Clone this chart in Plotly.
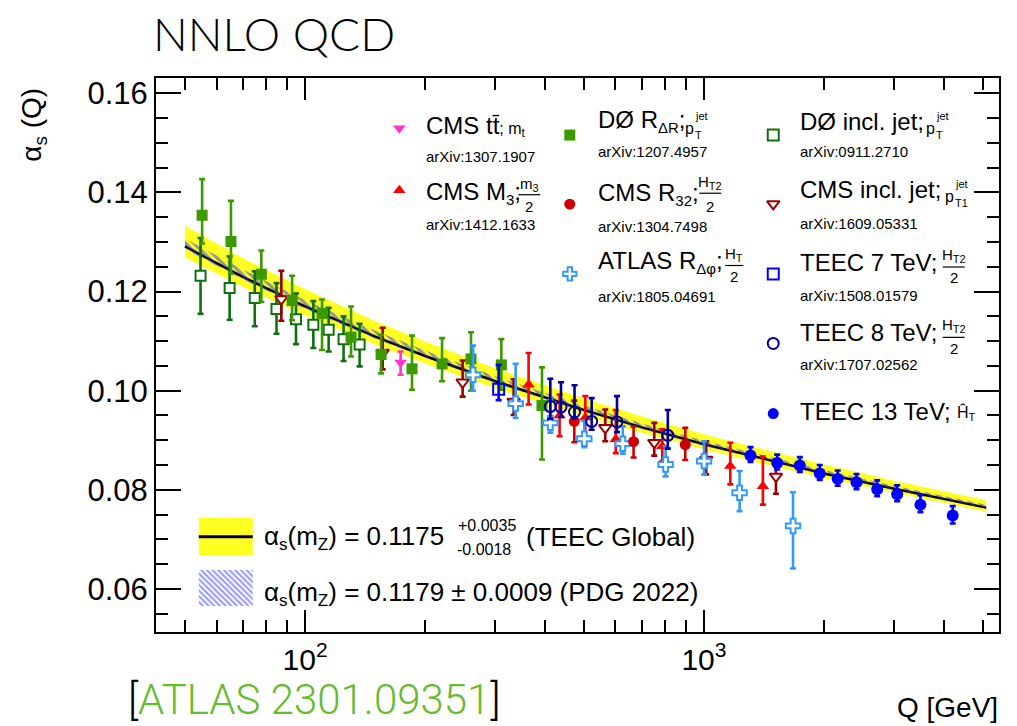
import math
import plotly.graph_objects as go

# ---------------- running coupling curves ----------------
q_band = [50, 70, 100, 150, 200, 300, 500, 700, 1000, 1500, 2000, 3000, 5100]
teec_central = [0.1291, 0.1229, 0.1170, 0.1109, 0.1070, 0.1019, 0.0961, 0.0926, 0.0892, 0.0857, 0.0833, 0.0802, 0.0764]
teec_up = [0.0042, 0.0038, 0.0035, 0.0031, 0.0029, 0.0026, 0.0023, 0.0022, 0.0020, 0.0019, 0.0018, 0.0016, 0.0015]
teec_down = [0.0022, 0.0020, 0.0018, 0.0016, 0.0015, 0.0014, 0.0012, 0.0011, 0.0010, 0.0010, 0.0009, 0.0008, 0.0008]
pdg_central = [0.1296, 0.1234, 0.1174, 0.1113, 0.1074, 0.1022, 0.0964, 0.0928, 0.0894, 0.0859, 0.0835, 0.0804, 0.0766]
pdg_err = [0.0011, 0.0010, 0.0009, 0.0008, 0.0007, 0.0007, 0.0006, 0.0006, 0.0005, 0.0005, 0.0005, 0.0004, 0.0004]

# ---------------- measurements ----------------
d0_incl_q = [54.7, 64.7, 74.8, 84.8, 94.9, 104.9, 114.6, 124.9, 137.0]
d0_incl_a = [0.1232, 0.1207, 0.1187, 0.1165, 0.1144, 0.1133, 0.1123, 0.1104, 0.1093]
d0_incl_up = [0.0076, 0.0064, 0.0054, 0.0052, 0.0052, 0.0048, 0.0044, 0.0046, 0.0042]
d0_incl_dn = [0.0077, 0.0064, 0.0057, 0.0050, 0.0050, 0.0047, 0.0044, 0.0044, 0.0044]

cms_incl_q = [87.2, 156.5, 248.3, 333.3, 565.6, 750.6, 1013, 1515]
cms_incl_a = [0.1185, 0.1077, 0.1017, 0.0978, 0.0925, 0.0895, 0.0861, 0.0827]
cms_incl_up = [0.0057, 0.0050, 0.0044, 0.0045, 0.0037, 0.0040, 0.0037, 0.0034]
cms_incl_dn = [0.0044, 0.0034, 0.0029, 0.0027, 0.0027, 0.0026, 0.0030, 0.0035]

d0_rdr_q = [55.2, 65.2, 77.7, 92.8, 110.3, 130.4, 155.1, 185.4, 220.5, 260.6, 310.5, 392.6]
d0_rdr_a = [0.1354, 0.1301, 0.1235, 0.1182, 0.1156, 0.1108, 0.1073, 0.1044, 0.1054, 0.1064, 0.1052, 0.0970]
d0_rdr_up = [0.0073, 0.0082, 0.0048, 0.0050, 0.0028, 0.0062, 0.0040, 0.0067, 0.0052, 0.0054, 0.0052, 0.0077]
d0_rdr_dn = [0.0057, 0.0065, 0.0056, 0.0040, 0.0074, 0.0039, 0.0038, 0.0042, 0.0035, 0.0064, 0.0050, 0.0109]

cms_tt_q = [173.6]
cms_tt_a = [0.1057]
cms_tt_up = [0.0022]
cms_tt_dn = [0.0025]

cms_m3_q = [363.4, 434.6, 504.1, 601.0, 786.2, 1164, 1405]
cms_m3_a = [0.1012, 0.0950, 0.0946, 0.0902, 0.0888, 0.0848, 0.0807]
cms_m3_up = [0.0064, 0.0042, 0.0043, 0.0059, 0.0034, 0.0047, 0.0060]
cms_m3_dn = [0.0040, 0.0042, 0.0044, 0.0028, 0.0030, 0.0037, 0.0037]

atlas_q = [263.7, 337.2, 411.9, 501.2, 625.9, 801.4, 1000.6, 1228, 1672]
atlas_a = [0.1032, 0.0974, 0.0935, 0.0903, 0.0893, 0.0851, 0.0858, 0.0794, 0.0727]
atlas_up = [0.0059, 0.0080, 0.0046, 0.0036, 0.0035, 0.0037, 0.0040, 0.0044, 0.0068]
atlas_dn = [0.0032, 0.0029, 0.0020, 0.0017, 0.0020, 0.0024, 0.0027, 0.0037, 0.0086]

cms_r32_q = [473.1, 666.1, 897.6]
cms_r32_a = [0.0938, 0.0897, 0.0891]
cms_r32_up = [0.0042, 0.0031, 0.0034]
cms_r32_dn = [0.0042, 0.0032, 0.0031]

teec7_q = [305.7]
teec7_a = [0.1003]
teec7_up = [0.0049]
teec7_dn = [0.0022]

teec8_q = [411.9, 438.1, 473.7, 523.0, 605.3, 811.6]
teec8_a = [0.0968, 0.0967, 0.0957, 0.0938, 0.0937, 0.0910]
teec8_up = [0.0056, 0.0050, 0.0054, 0.0047, 0.0052, 0.0051]
teec8_dn = [0.0025, 0.0020, 0.0013, 0.0017, 0.0021, 0.0027]

teec13_q = [1308, 1526, 1739, 1951, 2164, 2412, 2718, 3050, 3488, 4203]
teec13_a = [0.0869, 0.0854, 0.0849, 0.0833, 0.0822, 0.0815, 0.0801, 0.0791, 0.0770, 0.0748]
teec13_up = [0.0017, 0.0017, 0.0017, 0.0017, 0.0017, 0.0017, 0.0018, 0.0018, 0.0019, 0.0019]
teec13_dn = [0.0013, 0.0013, 0.0013, 0.0013, 0.0014, 0.0014, 0.0014, 0.0014, 0.0015, 0.0016]

y_ticks = [0.06, 0.08, 0.10, 0.12, 0.14, 0.16]
y_ticktext = ["0.06", "0.08", "0.10", "0.12", "0.14", "0.16"]
x_ticks = [100, 1000]
x_ticktext = ["10<sup>2</sup>", "10<sup>3</sup>"]

# ---------------- page geometry ----------------
W, H = 1017, 726
L, R, T, B = 155.6, 998.8, 77.7, 632.0
FONT = "Liberation Sans"
YELLOW = "#ffff22"
HATCH_BLUE = "#2b2bff"


def fx(px):
    return (px - L) / (R - L)


def fy(py):
    return (B - py) / (B - T)


def sub(s, size=15):
    return f"<sub><span style='font-size:{size}px'>{s}</span></sub>"


fig = go.Figure()

# TEEC global band (yellow) + central line
lower = [c - d for c, d in zip(teec_central, teec_down)]
upper = [c + u for c, u in zip(teec_central, teec_up)]
fig.add_trace(go.Scatter(x=q_band, y=lower, mode="lines", line=dict(width=0, color=YELLOW),
                         showlegend=False, hoverinfo="skip"))
fig.add_trace(go.Scatter(x=q_band, y=upper, mode="lines", line=dict(width=0, color=YELLOW),
                         fill="tonexty", fillcolor=YELLOW, showlegend=False, hoverinfo="skip"))
fig.add_trace(go.Scatter(x=q_band, y=teec_central, mode="lines", line=dict(width=2.5, color="black"),
                         showlegend=False, hoverinfo="skip"))

# PDG world average band (hatched)
p_lo = [c - e for c, e in zip(pdg_central, pdg_err)]
p_hi = [c + e for c, e in zip(pdg_central, pdg_err)]
hatch = dict(shape="\\", fgcolor=HATCH_BLUE, bgcolor="rgba(0,0,0,0)", size=6, solidity=0.55)
fig.add_trace(go.Scatter(x=q_band, y=p_lo, mode="lines", line=dict(width=0), showlegend=False,
                         hoverinfo="skip"))
fig.add_trace(go.Scatter(x=q_band, y=p_hi, mode="lines", line=dict(width=0), fill="tonexty",
                         fillcolor="rgba(0,0,0,0)", fillpattern=hatch, showlegend=False,
                         hoverinfo="skip"))


def add_points(q, a, up, dn, color, symbol, size, fill=None, lw=2):
    fig.add_trace(go.Scatter(
        x=q, y=a, mode="markers", showlegend=False,
        marker=dict(symbol=symbol, size=size, color=fill if fill else color,
                    line=dict(color=color, width=lw)),
        error_y=dict(type="data", symmetric=False, array=up, arrayminus=dn,
                     color=color, thickness=2.6, width=3),
    ))


C_D0_INCL = "#107010"
C_CMS_INCL = "#9a0000"
C_D0_RDR = "#3a9a00"
C_TT = "#ff33cc"
C_M3 = "#ff0000"
C_ATLAS = "#3399ff"
C_R32 = "#cc0000"
C_TEEC7 = "#0000ee"
C_TEEC8 = "#000099"
C_TEEC13 = "#0000ff"

add_points(d0_incl_q, d0_incl_a, d0_incl_up, d0_incl_dn, C_D0_INCL, "square", 10, fill="white")
add_points(cms_incl_q, cms_incl_a, cms_incl_up, cms_incl_dn, C_CMS_INCL, "triangle-down", 11, fill="white")
add_points(d0_rdr_q, d0_rdr_a, d0_rdr_up, d0_rdr_dn, C_D0_RDR, "square", 11, lw=0)
add_points(cms_tt_q, cms_tt_a, cms_tt_up, cms_tt_dn, C_TT, "triangle-down", 11, lw=0)
add_points(cms_m3_q, cms_m3_a, cms_m3_up, cms_m3_dn, C_M3, "triangle-up", 11, lw=0)
add_points(atlas_q, atlas_a, atlas_up, atlas_dn, C_ATLAS, "cross", 12, fill="white")
add_points(cms_r32_q, cms_r32_a, cms_r32_up, cms_r32_dn, C_R32, "circle", 11, lw=0)
add_points(teec7_q, teec7_a, teec7_up, teec7_dn, C_TEEC7, "square-open", 11)
add_points(teec8_q, teec8_a, teec8_up, teec8_dn, C_TEEC8, "circle-open", 11)
add_points(teec13_q, teec13_a, teec13_up, teec13_dn, C_TEEC13, "circle", 12, lw=0)

# ---------------- legend ----------------
annotations = []
shapes = []


def text(px, py, s, size=24, anchor="left", color="black", family=FONT, weight=None):
    font = dict(family=family, size=size, color=color)
    if weight:
        font["weight"] = weight
    annotations.append(dict(x=fx(px), y=fy(py), xref="paper", yref="paper", text=s,
                            showarrow=False, xanchor=anchor, yanchor="middle", font=font))


def fraction(cx, num, den, ynum, ybar, yden, half=11):
    text(cx, ynum, num, size=15, anchor="center")
    text(cx, yden, den, size=15, anchor="center")
    shapes.append(dict(type="line", xref="paper", yref="paper", x0=fx(cx - half), x1=fx(cx + half),
                       y0=fy(ybar), y1=fy(ybar), line=dict(color="black", width=1.2)))


def pjet(px, py, lower_index):
    text(px, py, "p", size=16)
    text(px + 10, py - 12, "jet", size=11)
    text(px + 10, py + 7, lower_index, size=11)


legend_markers = [
    (399, 128, "triangle-down", C_TT, C_TT, 0),
    (399, 190, "triangle-up", C_M3, C_M3, 0),
    (569.5, 134.8, "square", C_D0_RDR, C_D0_RDR, 0),
    (569.5, 204, "circle", C_R32, C_R32, 0),
    (569.5, 273.7, "cross", "white", C_ATLAS, 2),
    (773, 134.8, "square", "white", C_D0_INCL, 2),
    (773, 203.7, "triangle-down", "white", C_CMS_INCL, 2),
    (773, 273.7, "square-open", C_TEEC7, C_TEEC7, 2),
    (773, 343.3, "circle-open", C_TEEC8, C_TEEC8, 2),
    (773, 413.4, "circle", C_TEEC13, C_TEEC13, 0),
]
for mx, my, sym, fc, lc, lw in legend_markers:
    fig.add_trace(go.Scatter(x=[fx(mx)], y=[fy(my)], xaxis="x2", yaxis="y2", mode="markers",
                             showlegend=False, hoverinfo="skip",
                             marker=dict(symbol=sym, size=11, color=fc, line=dict(color=lc, width=lw))))

# column 1
text(423.7, 126, "CMS tt\u0304<span style='font-size:16px'>; m" + sub("t", 12) + "</span>")
text(423.7, 155.8, "arXiv:1307.1907", size=15)
text(423.7, 193, "CMS M" + sub("3") + ";")
fraction(529, "m" + sub("3", 11), "2", 184, 194.5, 206)
text(423.7, 224.7, "arXiv:1412.1633", size=15)
# column 2
text(596, 121, "D\u00d8 R" + sub("\u0394R") + ";")
pjet(683, 128, "T")
text(596, 151.2, "arXiv:1207.4957", size=15)
text(596, 194, "CMS R" + sub("32") + ";")
fraction(710, "H" + sub("T2", 11), "2", 182, 193, 206.5)
text(596, 225.9, "arXiv:1304.7498", size=15)
text(596, 262, "ATLAS R" + sub("\u0394\u03c6") + ";")
fraction(734, "H" + sub("T", 11), "2", 254.5, 265.3, 276.5, half=9)
text(596, 295.9, "arXiv:1805.04691", size=15)
# column 3
text(798, 121, "D\u00d8 incl. jet;")
pjet(924, 128, "T")
text(798, 151.2, "arXiv:0911.2710", size=15)
text(798, 189.5, "CMS incl. jet;")
pjet(943, 196, "T1")
text(798, 222.8, "arXiv:1609.05331", size=15)
text(798, 262, "TEEC 7 TeV;")
fraction(953.5, "H" + sub("T2", 11), "2", 255, 266.8, 277.5)
text(798, 295.5, "arXiv:1508.01579", size=15)
text(798, 332, "TEEC 8 TeV;")
fraction(953.5, "H" + sub("T2", 11), "2", 325.5, 337.2, 348)
text(798, 364.8, "arXiv:1707.02562", size=15)
text(798, 411.5, "TEEC 13 TeV;")
text(955, 413, "\u0124" + sub("T", 11), size=16)

# band legend
shapes.append(dict(type="rect", xref="paper", yref="paper", x0=fx(198.4), x1=fx(252.4),
                   y0=fy(555), y1=fy(518), fillcolor=YELLOW, line=dict(width=0)))
shapes.append(dict(type="line", xref="paper", yref="paper", x0=fx(198.4), x1=fx(252.4),
                   y0=fy(536.8), y1=fy(536.8), line=dict(color="black", width=3)))
bx = [fx(198.4), fx(252.4), fx(252.4), fx(198.4), fx(198.4)]
by = [fy(570), fy(570), fy(606), fy(606), fy(570)]
fig.add_trace(go.Scatter(x=bx, y=by, xaxis="x2", yaxis="y2", mode="lines", fill="toself",
                         fillcolor="rgba(0,0,0,0)", line=dict(width=0),
                         fillpattern=dict(shape="\\", fgcolor=HATCH_BLUE, bgcolor="rgba(0,0,0,0)",
                                          size=4, solidity=0.5),
                         showlegend=False, hoverinfo="skip"))
text(261.5, 537, "\u03b1" + sub("s", 17) + "(m" + sub("Z", 17) + ") = 0.1175", size=26)
text(456, 525, "+0.0035", size=16)
text(455, 549, "-0.0018", size=16)
text(697, 537, "(TEEC Global)", size=26, anchor="right")
text(261.5, 593, "\u03b1" + sub("s", 17) + "(m" + sub("Z", 17) + ") = 0.1179 \u00b1 0.0009 (PDG 2022)",
     size=26)

# titles
text(151, 33, "NNLO QCD", size=46, family="Lato", weight=300)
annotations.append(dict(x=fx(33), y=fy(124), xref="paper", yref="paper",
                        text="\u03b1" + sub("s", 19) + " (Q)", textangle=-90, showarrow=False,
                        xanchor="center", yanchor="middle",
                        font=dict(family=FONT, size=28, color="black")))
text(1000, 708, "Q [GeV]", size=28, anchor="right")
text(126, 700, "[<span style='color:#66bb2e'>ATLAS 2301.09351</span>]", size=42,
     family="Roboto", weight=300)

x_minor = [50, 60, 70, 80, 90, 200, 300, 400, 500, 600, 700, 800, 900, 2000, 3000, 4000, 5000]
y_minor = [0.055, 0.065, 0.07, 0.075, 0.085, 0.09, 0.095, 0.105, 0.11, 0.115, 0.125, 0.13,
           0.135, 0.145, 0.15, 0.155]

fig.update_layout(
    width=W, height=H,
    margin=dict(l=L, r=W - R, t=T, b=H - B, pad=0),
    paper_bgcolor="white", plot_bgcolor="white",
    showlegend=False,
    annotations=annotations, shapes=shapes,
    xaxis=dict(type="log", range=[math.log10(42.3), math.log10(5490)],
               tickvals=x_ticks, ticktext=x_ticktext, ticks="inside", ticklen=22, tickwidth=1.5,
               tickcolor="black", showline=True, linewidth=2, linecolor="black", mirror="allticks",
               showgrid=False, zeroline=False, tickfont=dict(family=FONT, size=30, color="black"),
               minor=dict(tickvals=x_minor, ticks="inside", ticklen=12, tickwidth=1.5,
                          tickcolor="black", showgrid=False)),
    yaxis=dict(range=[0.0513, 0.1631], tickvals=y_ticks, ticktext=y_ticktext, ticks="inside",
               ticklen=25, tickwidth=1.5, tickcolor="black", showline=True, linewidth=2,
               linecolor="black", mirror="allticks", showgrid=False, zeroline=False,
               tickfont=dict(family=FONT, size=31, color="black"),
               minor=dict(tickvals=y_minor, ticks="inside", ticklen=12, tickwidth=1.5,
                          tickcolor="black", showgrid=False)),
    xaxis2=dict(overlaying="x", range=[0, 1], visible=False, fixedrange=True),
    yaxis2=dict(overlaying="y", range=[0, 1], visible=False, fixedrange=True),
)

fig.write_html("out.html")
